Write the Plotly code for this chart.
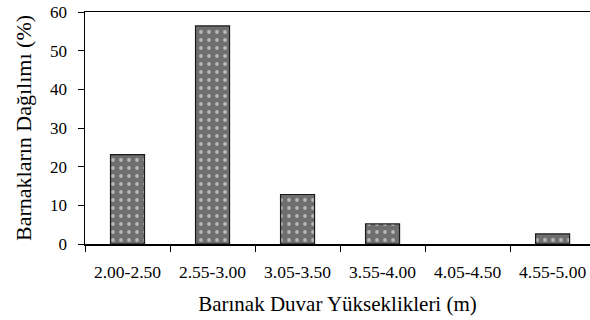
import plotly.graph_objects as go

categories = ["2.00-2.50", "2.55-3.00", "3.05-3.50", "3.55-4.00", "4.05-4.50", "4.55-5.00"]
values = [23.1, 56.4, 12.8, 5.2, 0.0, 2.6]
y_ticks = [0, 10, 20, 30, 40, 50, 60]

font_family = "Liberation Serif, Times New Roman, serif"

outline_widths = [1.2 if v > 0 else 0 for v in values]

fig = go.Figure()
fig.add_trace(go.Bar(
    x=categories,
    y=values,
    width=0.4,
    marker=dict(
        color="#7a7a7a",
        line=dict(color="#1a1a1a", width=outline_widths),
        pattern=dict(shape=".", fgcolor="#ffffff", bgcolor="#6f6f6f", size=8, solidity=0.18),
    ),
    showlegend=False,
    hoverinfo="skip",
))

fig.update_layout(
    width=590, height=320,
    margin=dict(l=85, r=0, t=12, b=76),
    paper_bgcolor="white",
    plot_bgcolor="white",
    font=dict(family=font_family, color="black"),
)

fig.update_xaxes(
    type="category",
    range=[-0.5, 5.44],
    automargin=False,
    showline=True, linecolor="black", linewidth=1.5,
    mirror=True,
    ticks="outside", ticklen=6, tickcolor="black", tickwidth=1,
    tickson="boundaries",
    tickfont=dict(size=17.5, family=font_family),
    ticklabelstandoff=11,
    ticklabeloverflow="allow",
    showgrid=False,
    title=dict(text="Barınak Duvar Yükseklikleri (m)", font=dict(size=21, family=font_family), standoff=16),
)

fig.update_yaxes(
    range=[0, 60],
    tickvals=y_ticks,
    automargin=False,
    showline=True, linecolor="black", linewidth=1.5,
    ticks="outside", ticklen=6, tickcolor="black", tickwidth=1,
    tickfont=dict(size=17, family=font_family),
    ticklabelstandoff=7,
    ticklabeloverflow="allow",
    showgrid=False, zeroline=False,
    title=dict(text="Barnakların Dağılımı (%)", font=dict(size=22, family=font_family), standoff=12),
)

fig.write_html(
    "out.html",
    config={"displayModeBar": False, "staticPlot": True},
    post_script="document.body.style.margin='0';document.body.style.overflow='hidden';",
)
